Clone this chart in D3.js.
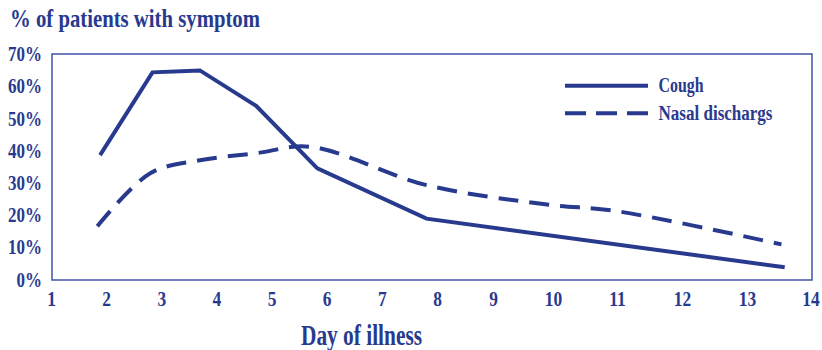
<!DOCTYPE html>
<html><head><meta charset="utf-8">
<script src="https://cdn.jsdelivr.net/npm/d3@7"></script>
<style>body{margin:0;background:#fff}svg{display:block}</style>
</head><body>
<script>
const dayTicks = [1,2,3,4,5,6,7,8,9,10,11,12,13,14];
const pctTicks = [0,10,20,30,40,50,60,70];
const coughDays = [1.89, 2.84, 3.70, 4.72, 5.83, 7.81, 13.58];
const coughPct  = [38.6, 64.3, 64.9, 53.9, 34.5, 18.9, 3.8];
const nasalDays = [1.84, 2.80, 3.70, 4.72, 5.70, 7.81, 9.90, 11.0, 13.53];
const nasalPct  = [16.5, 33.0, 37.0, 39.2, 41.2, 29.3, 23.3, 21.2, 10.9];
const seriesNames = ["Cough", "Nasal dischargs"];
const titleText = "% of patients with symptom";
const xTitle = "Day of illness";

const W = 822, H = 350;
const navy = "#283A8E";
const font = "'Liberation Serif', 'DejaVu Serif', serif";

const svg = d3.select("body").append("svg").attr("width", W).attr("height", H);

const x = d3.scaleLinear().domain([1, 8, 9, 10, 11, 14]).range([51, 437, 493, 553, 617, 812]);
const y = d3.scaleLinear().domain([0, 70]).range([279.5, 54]);

function condense(sel, f) {
  sel.each(function () {
    const w = this.getComputedTextLength();
    d3.select(this).attr("textLength", w * f).attr("lengthAdjust", "spacingAndGlyphs");
  });
}

// frame
svg.append("rect").attr("x", 52).attr("y", 54).attr("width", 760).attr("height", 226)
  .attr("fill", "none").attr("stroke", "#3546a0").attr("stroke-width", 1.4);

// axes
const xAxis = svg.append("g").attr("transform", "translate(0,280)")
  .call(d3.axisBottom(x).tickValues(dayTicks).tickSize(0).tickPadding(26).tickFormat(d3.format("d")));
xAxis.select(".domain").remove();
xAxis.selectAll("text").attr("font-family", font).attr("font-weight", "bold").attr("font-size", 20).attr("fill", navy).attr("dy", 0)
  .attr("dx", d => d === 14 ? -1.5 : 0)
  .call(condense, 0.87);

const yAxis = svg.append("g").attr("transform", "translate(42,0)")
  .call(d3.axisLeft(y).tickValues(pctTicks).tickSize(0).tickPadding(0).tickFormat(d => d + "%"));
yAxis.select(".domain").remove();
yAxis.selectAll("text").attr("font-family", font).attr("font-weight", "bold").attr("font-size", 20).attr("fill", navy).attr("dy", "0.33em")
  .call(condense, 0.85);

// titles
svg.append("text").attr("x", 10).attr("y", 27).text(titleText)
  .attr("font-family", font).attr("font-weight", "bold").attr("font-size", 26).attr("fill", navy)
  .attr("textLength", 250).attr("lengthAdjust", "spacingAndGlyphs");
svg.append("text").attr("x", 301).attr("y", 345).text(xTitle)
  .attr("font-family", font).attr("font-weight", "bold").attr("font-size", 29).attr("fill", navy)
  .attr("textLength", 121).attr("lengthAdjust", "spacingAndGlyphs");

// lines
const cough = coughDays.map((d, i) => [d, coughPct[i]]);
const nasal = nasalDays.map((d, i) => [d, nasalPct[i]]);
const lineStraight = d3.line().x(d => x(d[0])).y(d => y(d[1]));
const lineSmooth = d3.line().x(d => x(d[0])).y(d => y(d[1])).curve(d3.curveCatmullRom.alpha(0.5));

svg.append("path").attr("d", lineSmooth(nasal)).attr("fill", "none").attr("stroke", navy)
  .attr("stroke-width", 4).attr("stroke-dasharray", "20,11");
svg.append("path").attr("d", lineStraight(cough)).attr("fill", "none").attr("stroke", navy)
  .attr("stroke-width", 4).attr("stroke-linejoin", "miter");

// legend
const leg = svg.append("g");
[0, 1].forEach(i => {
  const ly = 85.7 + i * 27.6;
  leg.append("line").attr("x1", 565).attr("x2", 648).attr("y1", ly).attr("y2", ly)
    .attr("stroke", navy).attr("stroke-width", 4).attr("stroke-dasharray", i ? "21,10" : null);
  leg.append("text").attr("x", 658.5).attr("y", ly + 6.3).text(seriesNames[i])
    .attr("font-family", font).attr("font-weight", "bold").attr("font-size", 20).attr("fill", navy)
    .attr("textLength", i ? 114 : 45).attr("lengthAdjust", "spacingAndGlyphs");
});
</script>
</body></html>
